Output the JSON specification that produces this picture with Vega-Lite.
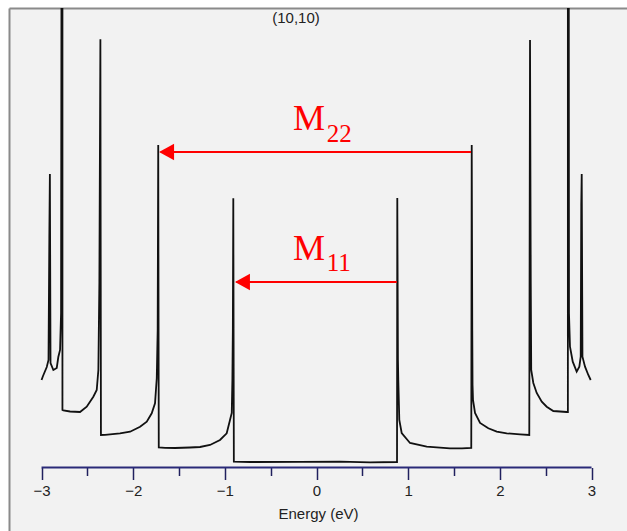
{
  "$schema": "https://vega.github.io/schema/vega-lite/v6.json",
  "width": 618,
  "height": 523,
  "autosize": {"type": "none"},
  "padding": {"left": 9, "top": 8, "right": 0, "bottom": 0},
  "background": "#ffffff",
  "config": {"view": {"fill": "#f2f2f2", "stroke": null}},
  "resolve": {"axis": {"x": "independent", "y": "independent"}},
  "layer": [
    {
      "data": {"values": [
        {"E":-3.000,"dos":0.875},{"E":-2.984,"dos":0.915},{"E":-2.943,"dos":1.005},{"E":-2.924,"dos":1.075},{"E":-2.915,"dos":2.295},{"E":-2.909,"dos":2.935},{"E":-2.902,"dos":1.045},{"E":-2.871,"dos":0.975},{"E":-2.834,"dos":0.995},{"E":-2.817,"dos":1.105},{"E":-2.798,"dos":1.175},{"E":-2.787,"dos":1.545},{"E":-2.781,"dos":6},{"E":-2.772,"dos":6},{"E":-2.772,"dos":0.575},{"E":-2.762,"dos":0.570},{"E":-2.689,"dos":0.560},{"E":-2.580,"dos":0.555},{"E":-2.507,"dos":0.608},{"E":-2.435,"dos":0.708},{"E":-2.398,"dos":0.775},{"E":-2.380,"dos":0.975},{"E":-2.369,"dos":1.855},{"E":-2.358,"dos":4.282},{"E":-2.352,"dos":0.325},{"E":-2.307,"dos":0.327},{"E":-2.252,"dos":0.332},{"E":-2.144,"dos":0.342},{"E":-2.034,"dos":0.358},{"E":-1.925,"dos":0.408},{"E":-1.852,"dos":0.458},{"E":-1.798,"dos":0.542},{"E":-1.762,"dos":0.642},{"E":-1.743,"dos":0.892},{"E":-1.733,"dos":1.375},{"E":-1.727,"dos":3.225},{"E":-1.721,"dos":0.200},{"E":-1.653,"dos":0.197},{"E":-1.544,"dos":0.195},{"E":-1.380,"dos":0.200},{"E":-1.271,"dos":0.205},{"E":-1.162,"dos":0.225},{"E":-1.053,"dos":0.275},{"E":-0.980,"dos":0.342},{"E":-0.944,"dos":0.475},{"E":-0.925,"dos":0.545},{"E":-0.918,"dos":0.875},{"E":-0.913,"dos":1.375},{"E":-0.908,"dos":2.692},{"E":-0.902,"dos":0.058},{"E":-0.725,"dos":0.055},{"E":-0.180,"dos":0.057},{"E":0.256,"dos":0.058},{"E":0.584,"dos":0.052},{"E":0.878,"dos":0.055},{"E":0.881,"dos":2.695},{"E":0.888,"dos":1.075},{"E":0.892,"dos":0.875},{"E":0.903,"dos":0.475},{"E":0.929,"dos":0.345},{"E":1.020,"dos":0.245},{"E":1.202,"dos":0.208},{"E":1.456,"dos":0.192},{"E":1.587,"dos":0.192},{"E":1.688,"dos":0.195},{"E":1.693,"dos":3.225},{"E":1.699,"dos":1.375},{"E":1.702,"dos":0.825},{"E":1.707,"dos":0.675},{"E":1.729,"dos":0.545},{"E":1.784,"dos":0.445},{"E":1.874,"dos":0.392},{"E":1.966,"dos":0.358},{"E":2.075,"dos":0.342},{"E":2.220,"dos":0.332},{"E":2.321,"dos":0.325},{"E":2.329,"dos":4.275},{"E":2.337,"dos":1.855},{"E":2.342,"dos":0.975},{"E":2.365,"dos":0.845},{"E":2.402,"dos":0.745},{"E":2.457,"dos":0.658},{"E":2.511,"dos":0.608},{"E":2.583,"dos":0.565},{"E":2.729,"dos":0.555},{"E":2.742,"dos":0.555},{"E":2.742,"dos":6},{"E":2.751,"dos":6},{"E":2.754,"dos":1.542},{"E":2.765,"dos":1.208},{"E":2.795,"dos":1.058},{"E":2.838,"dos":0.958},{"E":2.867,"dos":1.008},{"E":2.882,"dos":1.108},{"E":2.888,"dos":2.625},{"E":2.893,"dos":2.935},{"E":2.901,"dos":1.108},{"E":2.929,"dos":1.008},{"E":2.965,"dos":0.925},{"E":2.991,"dos":0.875}
      ]},
      "mark": {"type": "line", "color": "#111111", "strokeWidth": 1.8, "clip": true},
      "encoding": {
        "x": {
          "field": "E", "type": "quantitative",
          "scale": {"domain": [-3.355, 3.387], "nice": false, "zero": false},
          "axis": {
            "orient": "bottom", "offset": -63.5, "domain": false, "grid": false,
            "values": [-3, -2.5, -2, -1.5, -1, -0.5, 0, 0.5, 1, 1.5, 2, 2.5, 3],
            "tickSize": {"condition": {"test": "datum.value % 1 === 0", "value": 12}, "value": 8},
            "tickColor": "#20205e", "tickWidth": 1.5,
            "labelExpr": "datum.value % 1 === 0 ? format(datum.value, 'd') : ''",
            "labelFont": "Liberation Sans", "labelFontSize": 15, "labelColor": "#222222",
            "labelPadding": 4, "labelFlush": false, "labelOverlap": false,
            "title": "Energy (eV)", "titleFont": "Liberation Sans", "titleFontSize": 15,
            "titleFontWeight": "normal", "titleColor": "#222222", "titlePadding": 8
          }
        },
        "y": {
          "field": "dos", "type": "quantitative",
          "scale": {"domain": [-0.635, 4.595], "nice": false, "zero": false},
          "axis": {"orient": "left", "domain": true, "domainColor": "#8a8a8a", "domainWidth": 2, "ticks": false, "labels": false, "title": null, "grid": false}
        },
        "order": {"value": null}
      }
    },
    {
      "data": {"values": [{"E": -3, "E2": 3, "dos": 0}]},
      "mark": {"type": "rule", "color": "#2a2a78", "strokeWidth": 2},
      "encoding": {
        "x": {"field": "E", "type": "quantitative", "axis": null},
        "x2": {"field": "E2"},
        "y": {"field": "dos", "type": "quantitative", "axis": null}
      }
    },
    {
      "data": {"values": [{"E": 1.685, "E2": -1.70, "dos": 3.155}, {"E": 0.875, "E2": -0.875, "dos": 1.855}]},
      "mark": {"type": "rule", "color": "#ff0000", "strokeWidth": 2},
      "encoding": {
        "x": {"field": "E", "type": "quantitative", "axis": null},
        "x2": {"field": "E2"},
        "y": {"field": "dos", "type": "quantitative", "axis": null}
      }
    },
    {
      "data": {"values": [{"E": -1.636, "dos": 3.155}, {"E": -0.808, "dos": 1.855}]},
      "mark": {"type": "point", "shape": "M-1,0L1,-1.1L1,1.1Z", "size": 225, "filled": true, "color": "#ff0000", "opacity": 1, "strokeWidth": 0},
      "encoding": {
        "x": {"field": "E", "type": "quantitative", "axis": null},
        "y": {"field": "dos", "type": "quantitative", "axis": null}
      }
    },
    {
      "data": {"values": [{"E": -0.256, "dos": 3.375, "t": "M"}, {"E": -0.256, "dos": 2.075, "t": "M"}]},
      "mark": {"type": "text", "align": "left", "baseline": "alphabetic", "font": "Liberation Serif", "fontSize": 36, "color": "#ff0000"},
      "encoding": {
        "x": {"field": "E", "type": "quantitative", "axis": null},
        "y": {"field": "dos", "type": "quantitative", "axis": null},
        "text": {"field": "t"}
      }
    },
    {
      "data": {"values": [{"E": 0.111, "dos": 3.258, "t": "22"}, {"E": 0.111, "dos": 1.968, "t": "11"}]},
      "mark": {"type": "text", "align": "left", "baseline": "alphabetic", "font": "Liberation Serif", "fontSize": 25, "color": "#ff0000"},
      "encoding": {
        "x": {"field": "E", "type": "quantitative", "axis": null},
        "y": {"field": "dos", "type": "quantitative", "axis": null},
        "text": {"field": "t"}
      }
    },
    {
      "data": {"values": [{"E": -0.224, "dos": 4.5, "t": "(10,10)"}]},
      "mark": {"type": "text", "align": "center", "baseline": "middle", "font": "Liberation Sans", "fontSize": 15, "color": "#222222"},
      "encoding": {
        "x": {"field": "E", "type": "quantitative", "axis": {"orient": "top", "domain": true, "domainColor": "#8a8a8a", "domainWidth": 2, "ticks": false, "labels": false, "title": null, "grid": false}},
        "y": {"field": "dos", "type": "quantitative", "axis": null},
        "text": {"field": "t"}
      }
    }
  ]
}
